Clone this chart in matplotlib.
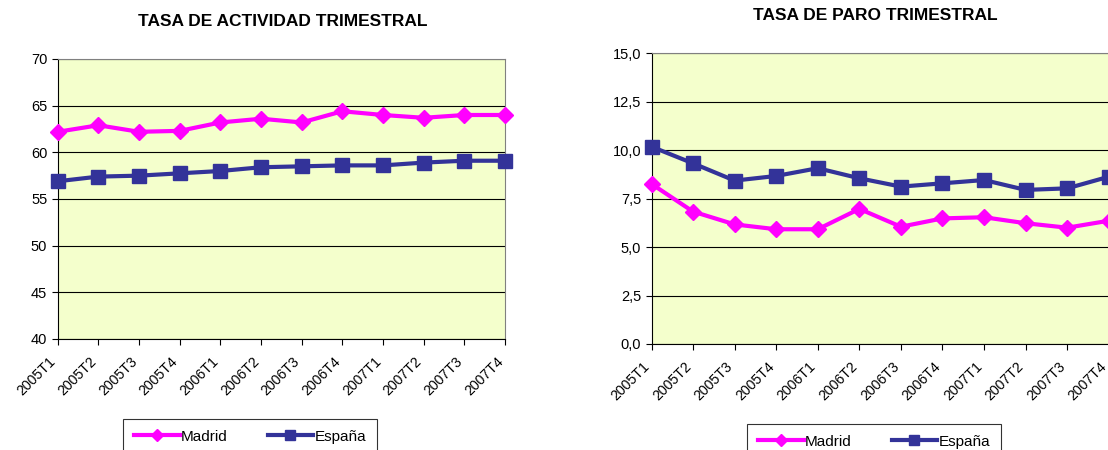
import matplotlib
matplotlib.use('Agg')
import matplotlib.pyplot as plt
import matplotlib.transforms as mtransforms
from matplotlib.lines import Line2D
from matplotlib.ticker import FuncFormatter

plt.rcParams['font.family'] = ['Liberation Sans', 'DejaVu Sans']

# data
periodos = ['2005T1', '2005T2', '2005T3', '2005T4', '2006T1', '2006T2',
            '2006T3', '2006T4', '2007T1', '2007T2', '2007T3', '2007T4']

actividad_madrid = [62.2, 62.9, 62.2, 62.3, 63.2, 63.6, 63.2, 64.4, 64.0, 63.7, 64.0, 64.0]
actividad_espana = [56.9, 57.4, 57.5, 57.75, 58.0, 58.4, 58.5, 58.6, 58.6, 58.9, 59.1, 59.1]

paro_madrid = [8.26, 6.83, 6.17, 5.92, 5.92, 6.97, 6.05, 6.48, 6.54, 6.23, 6.0, 6.36]
paro_espana = [10.18, 9.32, 8.43, 8.67, 9.07, 8.55, 8.12, 8.29, 8.46, 7.95, 8.03, 8.63]

c_madrid = '#FF00FF'
c_espana = '#333399'
fondo = '#F4FFCC'

fig = plt.figure(figsize=(11.08, 4.5), dpi=100)

ax1 = fig.add_axes([0.0521, 0.2467, 0.4037, 0.6222])
ax2 = fig.add_axes([0.588, 0.2356, 0.4127, 0.646])


def dibujar(ax, madrid, espana, ylim, yticks, fmt, titulo, title_xy):
    x = list(range(len(periodos)))
    ax.set_facecolor(fondo)
    ax.plot(x, madrid, color=c_madrid, lw=3, marker='D', ms=8,
            clip_on=False, zorder=3)
    ax.plot(x, espana, color=c_espana, lw=3, marker='s', ms=10,
            clip_on=False, zorder=4)
    ax.set_xlim(0, len(periodos) - 1)
    ax.set_ylim(*ylim)
    ax.set_yticks(yticks)
    ax.yaxis.set_major_formatter(FuncFormatter(fmt))
    ax.grid(axis='y', color='black', lw=0.8)
    ax.set_axisbelow(True)
    ax.set_xticks(x)
    ax.set_xticklabels([])
    # slanted period labels, right end just left of each tick
    base = ax.get_xaxis_transform()
    desplaza = mtransforms.ScaledTranslation(-9 / 100, -15 / 100, fig.dpi_scale_trans)
    for i, p in enumerate(periodos):
        ax.text(i, 0, p, transform=base + desplaza, rotation=45,
                rotation_mode='anchor', ha='right', va='top', fontsize=10.2,
                clip_on=False)
    ax.tick_params(axis='y', labelsize=10.5, length=4, direction='out')
    ax.tick_params(axis='x', length=4, direction='out')
    for s in ['top', 'right']:
        ax.spines[s].set_color('#808080')
    for s in ['left', 'bottom']:
        ax.spines[s].set_color('black')
    fig.text(title_xy[0], title_xy[1], titulo, ha='center', va='center',
             fontsize=12.5, fontweight='bold')


dibujar(ax1, actividad_madrid, actividad_espana, (40, 70), range(40, 71, 5),
        lambda v, p: '%d' % v, 'TASA DE ACTIVIDAD TRIMESTRAL',
        (283 / 1108, 1 - 22 / 450))
dibujar(ax2, paro_madrid, paro_espana, (0, 15), [0, 2.5, 5, 7.5, 10, 12.5, 15],
        lambda v, p: ('%.1f' % v).replace('.', ','), 'TASA DE PARO TRIMESTRAL',
        (875 / 1108, 1 - 16 / 450))

handles = [Line2D([], [], color=c_madrid, lw=3, marker='D', ms=6),
           Line2D([], [], color=c_espana, lw=3, marker='s', ms=7)]

for x0, y0 in [(123, 419), (747, 424)]:
    leg = fig.legend(handles, ['Madrid', 'España'], ncol=2,
                     loc='upper left', bbox_to_anchor=(x0 / 1108, 1 - y0 / 450),
                     frameon=True, fancybox=False, fontsize=11,
                     handlelength=3.0, handletextpad=0.1, columnspacing=2.6,
                     borderpad=0.7, borderaxespad=0)
    leg.get_frame().set_edgecolor('black')
    leg.get_frame().set_linewidth(0.8)

fig.savefig('out.png', dpi=100)
